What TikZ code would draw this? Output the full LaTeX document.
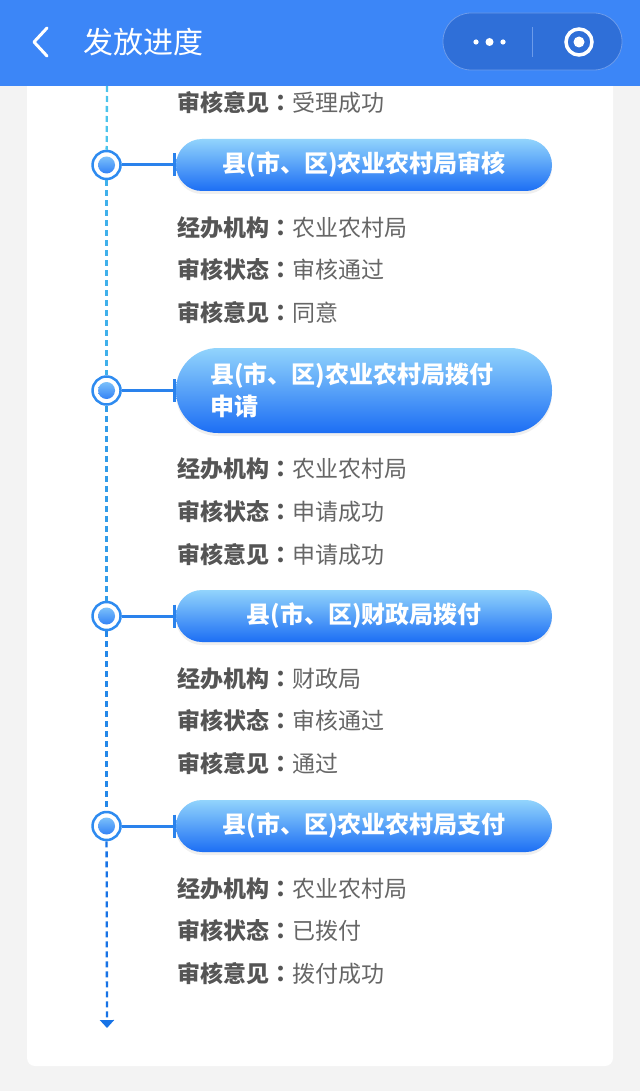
\documentclass[tikz,border=0pt]{standalone}
\usepackage{fontspec}
\usepackage{xcolor}
\setmainfont{Noto Sans CJK SC}
\newfontfamily\colonfont{Noto Sans CJK TC}
\usetikzlibrary{arrows.meta,positioning,shadows}

\definecolor{pagegray}{HTML}{F3F3F3}
\definecolor{barblue}{HTML}{3C86F7}
\definecolor{capblue}{HTML}{2F6FD8}
\definecolor{capedge}{HTML}{6C9BEA}
\definecolor{pilltop}{HTML}{92D4FC}
\definecolor{pillmid}{HTML}{4AA0F8}
\definecolor{pillbot}{HTML}{1C6EF4}
\definecolor{ringblue}{HTML}{2E8BF0}
\definecolor{linkblue}{HTML}{2A82EC}
\definecolor{spinetop}{HTML}{4CC4EC}
\definecolor{spinebot}{HTML}{1773E6}
\definecolor{lblgray}{HTML}{555555}
\definecolor{valgray}{HTML}{666666}

\newcommand{\lbl}[1]{{\color{lblgray}\bfseries #1{\colonfont ：}}}

\begin{document}
\begin{tikzpicture}[x=1pt,y=-1pt,
    stage/.style={rectangle, rounded corners=26pt, minimum width=376pt, minimum height=52pt,
      top color=pilltop, middle color=pillmid, bottom color=pillbot, text=white,
      font=\fontsize{24}{32}\selectfont\bfseries,
      drop shadow={opacity=0.12, shadow xshift=0pt, shadow yshift=-3pt}},
    dot/.style={circle, draw=ringblue, line width=2.5pt, fill=white, minimum size=28pt, inner sep=0pt,
      path picture={\shade[top color=pilltop, bottom color=pillbot] (path picture bounding box.center) circle (8.5pt);}},
    link/.style={draw=linkblue, line width=3pt, -{Bar[width=23pt,line width=3pt]}},
    spine/.style={line width=2.3pt, dash pattern=on 6pt off 4pt},
    info/.style={anchor=west, inner sep=0pt, text=valgray, font=\fontsize{23}{23}\selectfont}]

    % page, card and top bar
    \fill[pagegray] (0,0) rectangle (640,1091);
    \fill[white, rounded corners=8pt] (27,60) rectangle (613,1066);
    \fill[barblue] (0,0) rectangle (640,86);
    \draw[white, line width=3pt, line cap=round, line join=round] (47,28) -- (34,42) -- (47,56);
    \node (title) [anchor=west, inner sep=0pt, text=white, font=\fontsize{30}{30}\selectfont] at (83,42) {发放进度};
    \node (capsule) [draw=capedge, fill=capblue, line width=0.8pt, rounded corners=28pt, minimum width=179pt, minimum height=57pt] at (532.5,41.5) {};
    \fill[white] (476,42) circle (2.6pt) (489.5,42) circle (4pt) (503,42) circle (2.6pt);
    \draw[capedge, line width=1pt] (532,27) -- (532,57);
    \draw[white, line width=3.5pt] (579,42) circle (13pt);
    \fill[white] (579,42) circle (5.5pt);

    % stages
    \node (step1) [stage] at (364,165) {县(市、区)农业农村局审核};
    \node (step2) [stage, rounded corners=42pt, minimum height=85pt, text width=308pt, inner xsep=34pt, align=left] at (364,390.5) {县(市、区)农业农村局拨付\\申请};
    \node (step3) [stage] at (364,616) {县(市、区)财政局拨付};
    \node (step4) [stage] at (364,826) {县(市、区)农业农村局支付};

    \node (dot1) [dot, left=54pt of step1] {};
    \node (dot2) [dot, left=54pt of step2] {};
    \node (dot3) [dot, left=54pt of step3] {};
    \node (dot4) [dot, left=54pt of step4] {};

    \draw[link] (dot1) -- (step1);
    \draw[link] (dot2) -- (step2);
    \draw[link] (dot3) -- (step3);
    \draw[link] (dot4) -- (step4);

    % timeline
    \coordinate (top) at (107,86);
    \coordinate (bottom) at (107,1028);
    \draw[spine, spinetop] (top) -- (dot1);
    \draw[spine, spinetop!75!spinebot] (dot1) -- (dot2);
    \draw[spine, spinetop!50!spinebot] (dot2) -- (dot3);
    \draw[spine, spinetop!25!spinebot] (dot3) -- (dot4);
    \draw[spine, spinebot, -{Triangle[width=14pt,length=8pt]}] (dot4) -- (bottom);

    % details
    \node (r0) [info] at (177,103) {\lbl{审核意见}受理成功};

    \node (r11) [info] at (177,228) {\lbl{经办机构}农业农村局};
    \node (r12) [info] at (177,270) {\lbl{审核状态}审核通过};
    \node (r13) [info] at (177,313) {\lbl{审核意见}同意};

    \node (r21) [info] at (177,469) {\lbl{经办机构}农业农村局};
    \node (r22) [info] at (177,512) {\lbl{审核状态}申请成功};
    \node (r23) [info] at (177,555) {\lbl{审核意见}申请成功};

    \node (r31) [info] at (177,679) {\lbl{经办机构}财政局};
    \node (r32) [info] at (177,721) {\lbl{审核状态}审核通过};
    \node (r33) [info] at (177,764) {\lbl{审核意见}通过};

    \node (r41) [info] at (177,889) {\lbl{经办机构}农业农村局};
    \node (r42) [info] at (177,931) {\lbl{审核状态}已拨付};
    \node (r43) [info] at (177,974) {\lbl{审核意见}拨付成功};
\end{tikzpicture}
\end{document}
